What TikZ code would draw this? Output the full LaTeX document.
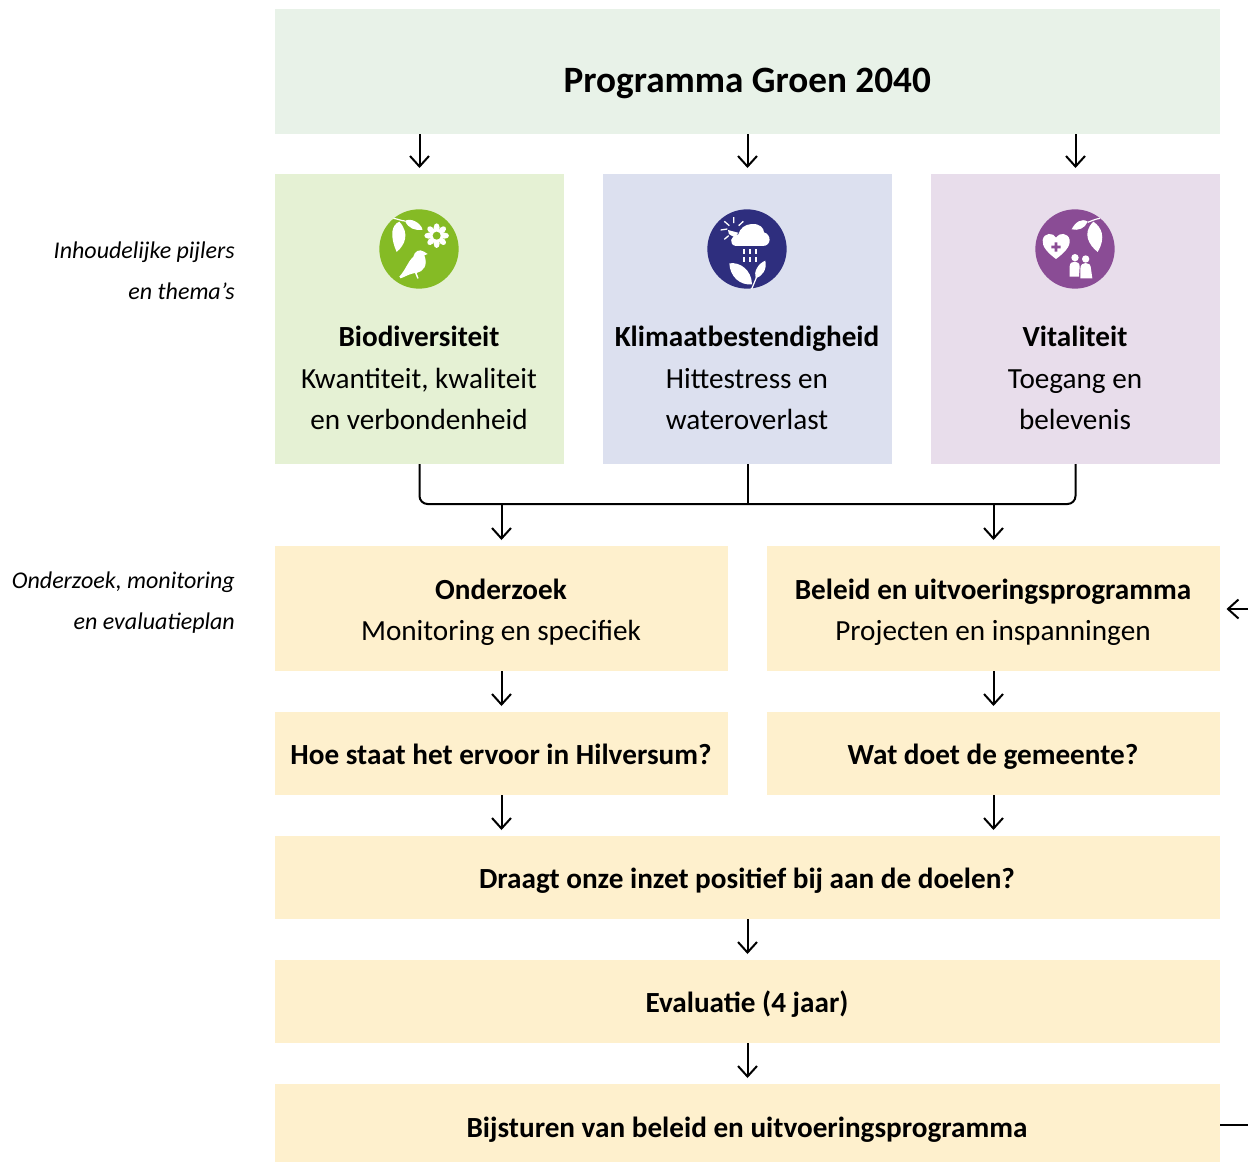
\documentclass[tikz,border=0pt]{standalone}
\usepackage{fontspec}
\setmainfont{Carlito}
\usetikzlibrary{arrows.meta}
\definecolor{topc}{HTML}{E8F2E8}
\definecolor{greenc}{HTML}{E5F1D4}
\definecolor{bluec}{HTML}{DCE0EF}
\definecolor{purpc}{HTML}{E8DDEB}
\definecolor{yelc}{HTML}{FEF0CD}
\definecolor{icong}{HTML}{85BB25}
\definecolor{iconb}{HTML}{2E2E7E}
\definecolor{iconp}{HTML}{8A4C95}
\tikzset{
  panel/.style={inner sep=0pt,outer sep=0pt,anchor=north west},
  body/.style={inner sep=0pt,align=center,anchor=base,font=\fontsize{29.2}{41.5}\selectfont},
  boldbody/.style={body,font=\fontsize{29.2}{41.5}\selectfont\bfseries},
  side/.style={inner sep=0pt,align=right,anchor=base east,font=\fontsize{24}{41}\selectfont\itshape},
  conn/.style={line width=2pt,black,xshift=-0.5pt},
  arr/.style={conn,-{Straight Barb[length=10.5pt,width=19pt,line width=2pt]},shorten >=6pt},
  ico/.style={fill=white,draw=none},
}
\newcommand{\panelbox}[6]{\node[panel,fill=#6,minimum width=#4pt,minimum height=#5pt] (#1) at (#2,#3) {};}
\begin{document}
\begin{tikzpicture}[x=1pt,y=-1pt]
\useasboundingbox (0,0) rectangle (1248,1162);
\panelbox{prog}{275}{9}{945}{125}{topc}
\panelbox{bio}{275}{174}{289}{290}{greenc}
\panelbox{klim}{603}{174}{289}{290}{bluec}
\panelbox{vita}{931}{174}{289}{290}{purpc}
\panelbox{ond}{275}{546}{453}{125}{yelc}
\panelbox{bel}{767}{546}{453}{125}{yelc}
\panelbox{hoe}{275}{712}{453}{83}{yelc}
\panelbox{wat}{767}{712}{453}{83}{yelc}
\panelbox{draagt}{275}{836}{945}{83}{yelc}
\panelbox{eval}{275}{960}{945}{83}{yelc}
\panelbox{bijs}{275}{1084}{945}{78}{yelc}

\node[inner sep=0pt,anchor=base,font=\fontsize{37.2}{40}\selectfont\bfseries] (tprog) at (747.3,92.5) {Programma Groen 2040};
\node[body] (tbio) at (419,429.5) {\textbf{Biodiversiteit}\\Kwantiteit, kwaliteit\\en verbondenheid};
\node[body] (tklim) at (747,429.5) {\textbf{Klimaatbestendigheid}\\Hittestress en\\wateroverlast};
\node[body] (tvita) at (1075,429.5) {\textbf{Vitaliteit}\\Toegang en\\belevenis};
\node[body] (tond) at (501,640.5) {\textbf{Onderzoek}\\Monitoring en specifiek};
\node[body] (tbel) at (993,640.5) {\textbf{Beleid en uitvoeringsprogramma}\\Projecten en inspanningen};
\node[boldbody] (thoe) at (501,764.7) {Hoe staat het ervoor in Hilversum?};
\node[boldbody] (twat) at (993,764.7) {Wat doet de gemeente?};
\node[boldbody] (tdraagt) at (747,888.7) {Draagt onze inzet positief bij aan de doelen?};
\node[boldbody] (teval) at (747,1012.7) {Evaluatie (4 jaar)};
\node[boldbody] (tbijs) at (747,1137.7) {Bijsturen van beleid en uitvoeringsprogramma};
\node[side] (s1) at (235,299) {Inhoudelijke pijlers\\en thema’s};
\node[side] (s2) at (235,629) {Onderzoek, monitoring\\en evaluatieplan};

% connectors
\foreach \a/\b in {prog/bio,prog/klim,prog/vita}
  \draw[arr] (\a.south -| \b.north) -- (\b.north);
\draw[conn,rounded corners=8pt] (bio.south) -- (bio.south |- 0,504) -- (vita.south |- 0,504) -- (vita.south);
\draw[conn] (klim.south) -- (klim.south |- 0,504);
\draw[arr] (ond.north |- 0,504) -- (ond.north);
\draw[arr] (bel.north |- 0,504) -- (bel.north);
\draw[arr] (ond.south) -- (hoe.north);
\draw[arr] (bel.south) -- (wat.north);
\draw[arr] (hoe.south) -- (hoe.south |- draagt.north);
\draw[arr] (wat.south) -- (wat.south |- draagt.north);
\draw[arr] (draagt.south) -- (eval.north);
\draw[arr] (eval.south) -- (bijs.north);
\coordinate (fbTop) at (1248.5,609);
\coordinate (fbTip) at (1220.5,609);
\coordinate (fbBot) at (1248.5,1125);
\draw[arr] (fbTop) -- (fbTip);
\draw[conn] (fbBot) -- (1220.5,1125);

% icon 1
\begin{scope}[shift={(360,195)},x=0.3333pt,y=-0.3333pt]
\fill[icong] (177,162) circle (119);
\draw[white,line width=1.2pt] (100,70) .. controls (115,72) and (125,78) .. (135,78);
\fill[ico] (118,80) .. controls (95,90) and (88,120) .. (110,171) .. controls (135,150) and (150,115) .. (118,80) -- cycle;
\fill[ico] (135,78) .. controls (150,68) and (180,80) .. (188,104) .. controls (165,108) and (145,100) .. (135,78) -- cycle;
\foreach \r in {0,45,...,315}
  \fill[ico,rotate around={\r:(230,122)}] (230,98) ellipse (9 and 13);
\fill[ico] (230,122) circle (20);
\fill[icong] (230,122) circle (12);
\fill[ico] (118,245) .. controls (140,220) and (140,205) .. (160,185) .. controls (163,170) and (178,160) .. (192,170) -- (203,177) -- (193,181) .. controls (205,210) and (190,230) .. (170,234) -- (176,250) -- (172,251) -- (165,234) .. controls (150,236) and (135,245) .. (122,250) -- cycle;
\end{scope}
% icon 2
\begin{scope}[shift={(690,195)},x=0.3333pt,y=-0.3333pt]
\fill[iconb] (171,162) circle (119);
\fill[ico] (130,100) ++(-16,5) arc[start angle=190,end angle=20,radius=16] -- cycle;
\draw[white,line width=1.3pt] (92,105) -- (112,102) (103,79) -- (118,92) (131,66) -- (131,84) (160,79) -- (146,92) (103,133) -- (116,122);
\fill[ico] (138,153) .. controls (115,150) and (120,120) .. (145,118) .. controls (150,100) and (165,88) .. (185,87) .. controls (210,85) and (222,100) .. (222,112) .. controls (245,118) and (245,153) .. (218,153) -- cycle;
\foreach \xx in {162,180,198} {
  \fill[ico] (\xx-2.5,162) rectangle (\xx+2.5,177);
  \fill[ico] (\xx-2.5,185) rectangle (\xx+2.5,200);
}
\fill[ico] (118,205) .. controls (150,200) and (185,225) .. (186,268) .. controls (150,272) and (120,245) .. (118,205) -- cycle;
\fill[ico] (226,197) .. controls (232,225) and (215,245) .. (197,250) .. controls (190,230) and (205,205) .. (226,197) -- cycle;
\draw[white,line width=1.2pt] (185,282) -- (210,222);
\end{scope}
% icon 3
\begin{scope}[shift={(1015,195)},x=0.3333pt,y=-0.3333pt]
\fill[iconp] (180,162) circle (119);
\fill[ico] (123,192) .. controls (100,175) and (80,155) .. (83,135) .. controls (87,112) and (115,112) .. (123,128) .. controls (131,112) and (160,112) .. (164,135) .. controls (167,155) and (146,175) .. (123,192) -- cycle;
\fill[iconp] (119,142) rectangle (127,170) (109,152) rectangle (137,160);
\draw[white,line width=1.2pt] (255,70) .. controls (240,72) and (230,78) .. (218,82);
\fill[ico] (235,80) .. controls (258,95) and (275,125) .. (248,171) .. controls (222,150) and (200,115) .. (235,80) -- cycle;
\fill[ico] (218,80) .. controls (200,68) and (180,82) .. (170,103) .. controls (190,108) and (210,100) .. (218,80) -- cycle;
\fill[ico] (180,188) circle (11);
\fill[ico] (164,245) -- (164,215) .. controls (164,203) and (172,200) .. (180,200) .. controls (188,200) and (194,205) .. (194,215) -- (192,245) -- cycle;
\fill[ico] (212,192) circle (11);
\fill[ico] (196,250) -- (196,222) .. controls (196,208) and (204,204) .. (212,204) .. controls (220,204) and (228,208) .. (228,222) -- (232,250) -- cycle;
\end{scope}
\end{tikzpicture}
\end{document}
